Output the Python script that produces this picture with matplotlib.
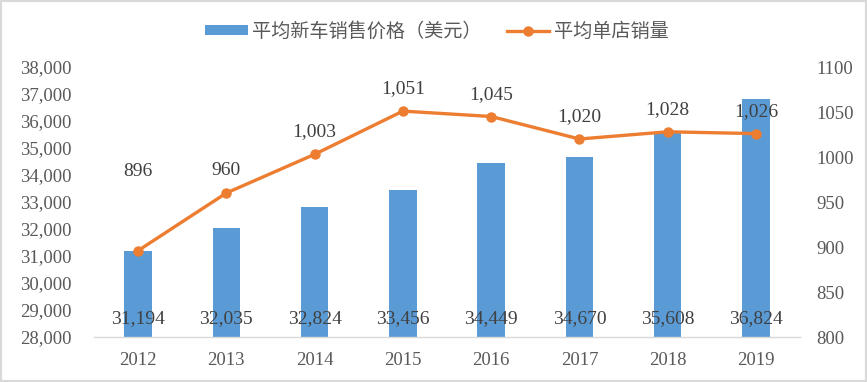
import numpy as np
import matplotlib.pyplot as plt
from matplotlib.patches import Rectangle

years = ["2012", "2013", "2014", "2015", "2016", "2017", "2018", "2019"]
avg_price = [31194, 32035, 32824, 33456, 34449, 34670, 35608, 36824]
avg_sales = [896, 960, 1003, 1051, 1045, 1020, 1028, 1026]
price_ticks = list(range(28000, 38001, 1000))
sales_ticks = list(range(800, 1101, 50))

BLUE = "#5B9BD5"
ORANGE = "#ED7D31"
GRAY = "#595959"
NUM_FONT = "Liberation Serif"
CJK_FONT = ["Noto Sans CJK SC", "DejaVu Sans"]

fig = plt.figure(figsize=(8.67, 3.82), dpi=100)
ax = fig.add_axes([94 / 867, 1 - 337 / 382, (800 - 94) / 867, (337 - 67) / 382])
ax2 = ax.twinx()

x = np.arange(len(years))
ax.bar(x, avg_price, width=0.31, color=BLUE, zorder=2, label="平均新车销售价格（美元）")
ax.set_xlim(-0.5, len(years) - 0.5)
ax.set_ylim(28000, 38000)
ax.set_yticks(price_ticks)
ax.set_yticklabels([f"{v:,}" for v in price_ticks], family=NUM_FONT, fontsize=13.5, color=GRAY)
ax.set_xticks(x)
ax.set_xticklabels(years, family=NUM_FONT, fontsize=13.5, color=GRAY)
ax.tick_params(axis="y", length=0, pad=16)
ax.tick_params(axis="x", length=0, pad=11)

for s in ["top", "left", "right"]:
    ax.spines[s].set_visible(False)
ax.spines["bottom"].set_color("#D9D9D9")
ax.spines["bottom"].set_linewidth(1)

# bar labels near the base
for xi, v in zip(x, avg_price):
    ax.annotate(f"{v:,}", (xi, 28000), xytext=(0, 13), textcoords="offset points",
                ha="center", va="center", family=NUM_FONT, fontsize=14, color="#404040",
                zorder=5)

ax2.plot(x, avg_sales, color=ORANGE, lw=2.4, marker="o", markersize=6.5,
         zorder=3, label="平均单店销量")
ax2.set_ylim(800, 1100)
ax2.set_yticks(sales_ticks)
ax2.set_yticklabels([str(v) for v in sales_ticks], family=NUM_FONT, fontsize=13.5, color=GRAY)
ax2.tick_params(axis="y", length=0, pad=12)
for s in ["top", "left", "right", "bottom"]:
    ax2.spines[s].set_visible(False)

offsets = [57, 16, 16, 16, 16, 16, 16, 16]
for xi, v, off in zip(x, avg_sales, offsets):
    ax2.annotate(f"{v:,}", (xi, v), xytext=(0, off), textcoords="offset points",
                 ha="center", va="center", family=NUM_FONT, fontsize=14, color="#404040")

h1, l1 = ax.get_legend_handles_labels()
h2, l2 = ax2.get_legend_handles_labels()
fig.legend(h1 + h2, l1 + l2, loc="center", bbox_to_anchor=(437 / 867, 1 - 31 / 382),
           ncol=2, frameon=False, handlelength=2.2, handleheight=0.45,
           handletextpad=0.25, columnspacing=1.3,
           prop={"family": CJK_FONT, "size": 13.8}, labelcolor=GRAY)

fig.patches.append(Rectangle((0, 0), 1, 1, transform=fig.transFigure, fill=False,
                             edgecolor="#D9D9D9", linewidth=3, zorder=10))

fig.savefig("out.png", dpi=100)
